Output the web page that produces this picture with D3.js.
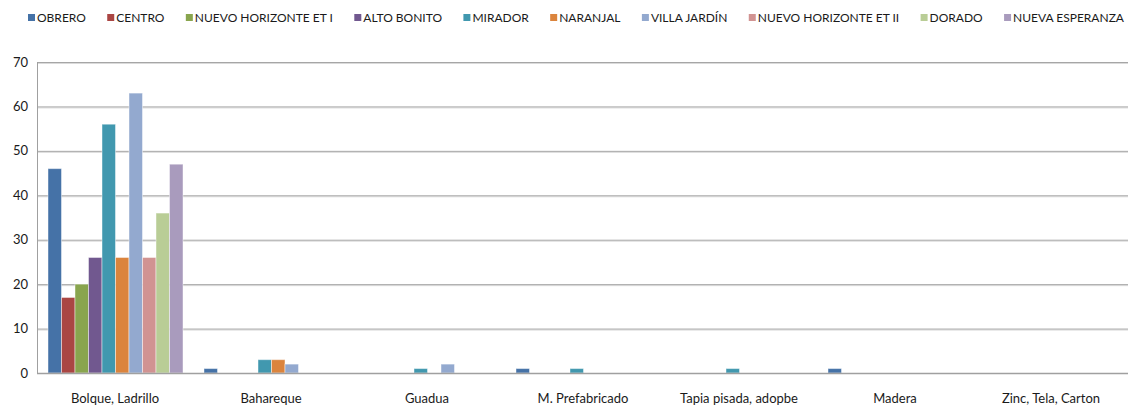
<!DOCTYPE html>
<html>
<head>
<meta charset="utf-8">
<script src="https://cdn.jsdelivr.net/npm/d3@7"></script>
<style>
  body { margin: 0; background: #fff; }
  svg { display: block; font-family: Lato, "Liberation Sans", sans-serif; }
</style>
</head>
<body>
<div id="chart"></div>
<script>
// chart data
const categories = ['Bolque, Ladrillo', 'Bahareque', 'Guadua', 'M. Prefabricado', 'Tapia pisada, adopbe', 'Madera', 'Zinc, Tela, Carton'];
const series = ['OBRERO', 'CENTRO', 'NUEVO HORIZONTE ET I', 'ALTO BONITO', 'MIRADOR', 'NARANJAL', 'VILLA JARDÍN', 'NUEVO HORIZONTE ET II', 'DORADO', 'NUEVA ESPERANZA'];
const colours = ['#4572a7', '#aa4643', '#89a54e', '#71588f', '#4198af', '#db843d', '#93a9cf', '#d19392', '#b9cd96', '#a99bbd'];
// one array per series, in category order
const obrero = [46, 1, 0, 1, 0, 1, 0];
const centro = [17, 0, 0, 0, 0, 0, 0];
const nuevoHorizonte1 = [20, 0, 0, 0, 0, 0, 0];
const altoBonito = [26, 0, 0, 0, 0, 0, 0];
const mirador = [56, 3, 1, 1, 1, 0, 0];
const naranjal = [26, 3, 0, 0, 0, 0, 0];
const villaJardin = [63, 2, 2, 0, 0, 0, 0];
const nuevoHorizonte2 = [26, 0, 0, 0, 0, 0, 0];
const dorado = [36, 0, 0, 0, 0, 0, 0];
const nuevaEsperanza = [47, 0, 0, 0, 0, 0, 0];
const yTicks = [0, 10, 20, 30, 40, 50, 60, 70];

const values = [obrero, centro, nuevoHorizonte1, altoBonito, mirador, naranjal, villaJardin, nuevoHorizonte2, dorado, nuevaEsperanza];

const width = 1128, height = 410;
const plot = { left: 37, right: 1129, top: 62, bottom: 373 };

const svg = d3.select('#chart').append('svg')
    .attr('width', width)
    .attr('height', height);

const x0 = d3.scaleBand()
    .domain(categories)
    .range([plot.left, plot.right]);

const x1 = d3.scaleBand()
    .domain(series)
    .range([11, x0.bandwidth() - 10]);

const y = d3.scaleLinear()
    .domain([0, 70])
    .range([plot.bottom, plot.top]);

// gridlines
const grid = svg.append('g');
grid.selectAll('.shade')
    .data(yTicks.filter(d => d > 0))
    .join('line')
    .attr('x1', plot.left).attr('x2', width)
    .attr('y1', d => y(d) + 1.5).attr('y2', d => y(d) + 1.5)
    .attr('stroke', '#dadada');
grid.selectAll('.gl')
    .data(yTicks.filter(d => d > 0))
    .join('line')
    .attr('x1', plot.left).attr('x2', width)
    .attr('y1', d => y(d) + 0.5).attr('y2', d => y(d) + 0.5)
    .attr('stroke', '#a6a6a6');

// bars
const groups = svg.append('g')
    .selectAll('g')
    .data(series)
    .join('g')
    .attr('fill', (d, i) => colours[i]);

groups.selectAll('rect')
    .data((s, i) => categories.map((c, j) => ({ cat: c, s: s, v: values[i][j] })).filter(d => d.v > 0))
    .join('rect')
    .attr('x', d => x0(d.cat) + x1(d.s))
    .attr('y', d => y(d.v))
    .attr('width', x1.bandwidth())
    .attr('height', d => y(0) - y(d.v))
    .attr('stroke', 'rgba(255,255,255,0.45)')
    .attr('stroke-width', 1);

// axes lines
svg.append('line')
    .attr('x1', plot.left + 0.5).attr('x2', plot.left + 0.5)
    .attr('y1', plot.top).attr('y2', plot.bottom + 1)
    .attr('stroke', '#a0a0a0');
svg.append('line')
    .attr('x1', plot.left).attr('x2', width)
    .attr('y1', plot.bottom + 0.5).attr('y2', plot.bottom + 0.5)
    .attr('stroke', '#a0a0a0')
    .attr('stroke-width', 1.5);

// y labels
svg.append('g')
    .selectAll('text')
    .data(yTicks)
    .join('text')
    .attr('x', 28)
    .attr('y', d => y(d))
    .attr('dy', '0.35em')
    .attr('text-anchor', 'end')
    .style('font-size', '13px')
    .style('fill', '#1a1a1a')
    .text(d => d);

// x labels
svg.append('g')
    .selectAll('text')
    .data(categories)
    .join('text')
    .attr('x', d => x0(d) + x0.bandwidth() / 2)
    .attr('y', 398)
    .attr('dy', '0.35em')
    .attr('text-anchor', 'middle')
    .style('font-size', '13px')
    .style('fill', '#1a1a1a')
    .text(d => d);

// legend
const legend = svg.append('g');
const items = legend.selectAll('g')
    .data(series)
    .join('g');
items.append('rect')
    .attr('width', 7).attr('height', 7)
    .attr('y', 14)
    .attr('fill', (d, i) => colours[i]);
items.append('text')
    .attr('x', 9)
    .attr('y', 17.5)
    .attr('dy', '0.35em')
    .style('font-size', '12px')
    .style('fill', '#1a1a1a')
    .text(d => d);

let widths = [];
items.each(function () {
    widths.push(9 + d3.select(this).select('text').node().getComputedTextLength());
});
const legStart = 28, legEnd = 1124;
const gap = (legEnd - legStart - d3.sum(widths)) / (series.length - 1);
let pos = legStart;
items.attr('transform', (d, i) => {
    let t = `translate(${pos},0)`;
    pos += widths[i] + gap;
    return t;
});
</script>
</body>
</html>
